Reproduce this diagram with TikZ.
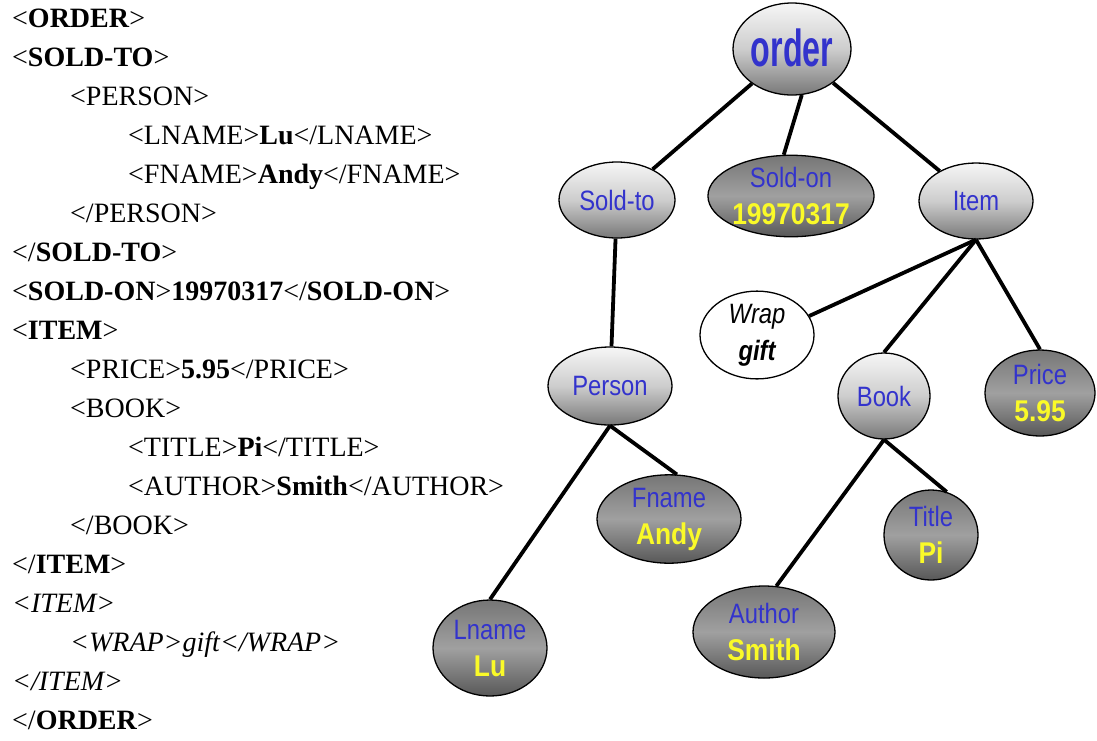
\documentclass[tikz,border=0pt]{standalone}
\usepackage{fontspec}
\setmainfont{Liberation Serif}
\newfontfamily\arial{Liberation Sans}
\usetikzlibrary{shapes.geometric}
\definecolor{labblue}{RGB}{51,51,204}
\definecolor{valyellow}{RGB}{250,250,40}
\definecolor{lighttop}{RGB}{246,246,246}
\definecolor{lightmid}{RGB}{205,205,205}
\definecolor{lightbot}{RGB}{120,120,120}
\definecolor{darktop}{RGB}{118,118,118}
\definecolor{darkmid}{RGB}{160,160,160}
\definecolor{darkbot}{RGB}{88,88,88}
\newcommand\lab[1]{{\color{labblue}\scalebox{0.85}[1]{#1}}}
\newcommand\val[1]{{\color{valyellow}\bfseries\fontsize{30}{38}\selectfont\scalebox{0.88}[1]{#1}}}
\tikzset{
 ell/.style={ellipse, draw=black, line width=1.3pt, inner sep=0pt, align=center,
   font=\arial\fontsize{28}{37}\selectfont},
 light/.style={ell, top color=lighttop, bottom color=lightbot, middle color=lightmid},
 dark/.style={ell, top color=darktop, bottom color=darkbot, middle color=darkmid},
 wht/.style={ell, fill=white},
 edge/.style={line width=3.8pt},
 xml/.style={anchor=base west, inner sep=0pt, font=\fontsize{28}{34}\selectfont},
}
\begin{document}
\begin{tikzpicture}[x=1pt,y=-1pt]
\path[fill=white] (0,0) rectangle (1097,740);
\useasboundingbox (0,0) rectangle (1097,740);

% XML text
\node[xml] (x0)  at (12,27)  {<\textbf{ORDER}>};
\node[xml] (x1)  at (12,66)  {<\textbf{SOLD-TO}>};
\node[xml] (x2)  at (70,105) {<PERSON>};
\node[xml] (x3)  at (128,144) {<LNAME>\textbf{Lu}</LNAME>};
\node[xml] (x4)  at (128,183) {<FNAME>\textbf{Andy}</FNAME>};
\node[xml] (x5)  at (70,222) {</PERSON>};
\node[xml] (x6)  at (12,261) {</\textbf{SOLD-TO}>};
\node[xml] (x7)  at (12,300) {<\textbf{SOLD-ON}>\textbf{19970317}</\textbf{SOLD-ON}>};
\node[xml] (x8)  at (12,339) {<\textbf{ITEM}>};
\node[xml] (x9)  at (70,378) {<PRICE>\textbf{5.95}</PRICE>};
\node[xml] (x10) at (70,417) {<BOOK>};
\node[xml] (x11) at (128,456) {<TITLE>\textbf{Pi}</TITLE>};
\node[xml] (x12) at (128,495) {<AUTHOR>\textbf{Smith}</AUTHOR>};
\node[xml] (x13) at (70,534) {</BOOK>};
\node[xml] (x14) at (12,573) {</\textbf{ITEM}>};
\node[xml] (x15) at (12,612) {\textit{<ITEM>}};
\node[xml] (x16) at (70,651) {\textit{<WRAP>gift</WRAP>}};
\node[xml] (x17) at (12,690) {\textit{</ITEM>}};
\node[xml] (x18) at (12,729) {</\textbf{ORDER}>};

% tree nodes
\node[light, minimum width=118pt, minimum height=92pt] (order) at (792,49)
  {\raisebox{3pt}{\color{labblue}\bfseries\fontsize{52}{56}\selectfont\scalebox{0.62}[1]{order}}};
\node[light, minimum width=116pt, minimum height=76pt] (soldto) at (617,200) {\lab{Sold-to}};
\node[dark, minimum width=142pt, minimum height=80pt] (soldon) at (791,196) {\lab{Sold-on}\\\val{19970317}};
\node[light, minimum width=114pt, minimum height=76pt] (item) at (976,201) {\lab{Item}};
\node[wht, minimum width=114pt, minimum height=80pt] (wrap) at (757,335) {\scalebox{0.85}[1]{\itshape Wrap}\\\scalebox{0.85}[1]{\bfseries\itshape gift}};
\node[light, minimum width=124pt, minimum height=78pt] (person) at (610,386) {\lab{Person}};
\node[light, minimum width=92pt, minimum height=86pt] (book) at (884,396) {\lab{Book}};
\node[dark, minimum width=110pt, minimum height=86pt] (price) at (1040,393) {\lab{Price}\\\val{5.95}};
\node[dark, minimum width=144pt, minimum height=86pt] (fname) at (669,519) {\lab{Fname}\\\val{Andy}};
\node[dark, minimum width=94pt, minimum height=90pt] (title) at (931,535) {\lab{Title}\\\val{Pi}};
\node[dark, minimum width=114pt, minimum height=96pt] (lname) at (490,648) {\lab{Lname}\\\val{Lu}};
\node[dark, minimum width=142pt, minimum height=92pt] (author) at (764,632) {\lab{Author}\\\val{Smith}};

% connectors
\draw[edge] (order) -- (soldto);
\draw[edge] (order.-78) -- (soldon.100);
\draw[edge] (order) -- (item);
\draw[edge] (soldto) -- (person);
\draw[edge] (item.south) -- (wrap.20);
\draw[edge] (item.south) -- (book.north);
\draw[edge] (item.south) -- (price.north);
\draw[edge] (person.south) -- (lname.north);
\draw[edge] (person.south) -- (fname.80);
\draw[edge] (book.south) -- (author.75);
\draw[edge] (book.south) -- (title.70);
\end{tikzpicture}
\end{document}
